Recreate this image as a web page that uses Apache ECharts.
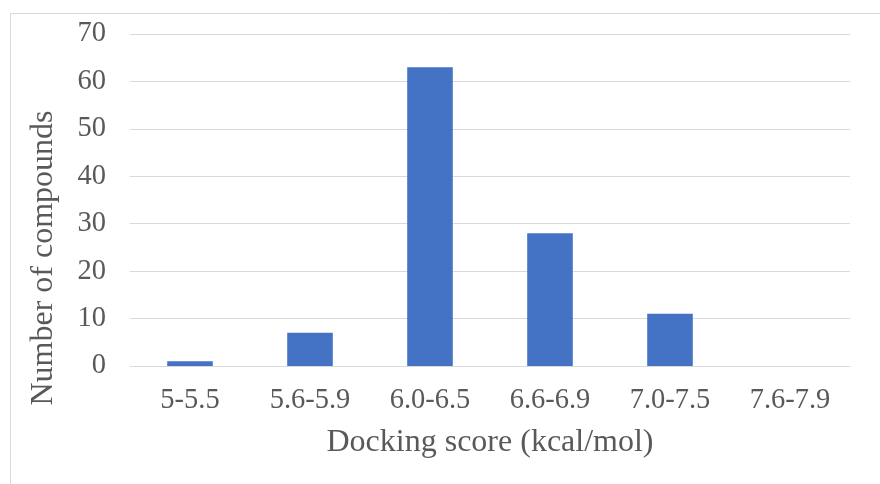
<!DOCTYPE html>
<html><head><meta charset="utf-8">
<script src="https://cdn.jsdelivr.net/npm/echarts@6/dist/echarts.min.js"></script>
<style>html,body{margin:0;padding:0;background:#fff}#c{width:880px;height:484px}</style>
</head><body><div id="c"></div>
<script>
const categories = ['5-5.5','5.6-5.9','6.0-6.5','6.6-6.9','7.0-7.5','7.6-7.9'];
const counts = [1, 7, 63, 28, 11, 0];
const yTicks = {min: 0, max: 70, interval: 10};
const xTitle = 'Docking score (kcal/mol)';
const yTitle = 'Number of compounds';

const font = '"Liberation Serif", "Times New Roman", serif';
const chart = echarts.init(document.getElementById('c'), null, {renderer: 'canvas'});
chart.setOption({
  animation: false,
  backgroundColor: '#fff',
  graphic: [{
    type: 'rect', left: 8, top: 11,
    shape: {width: 900, height: 500},
    style: {fill: 'none', stroke: '#d9d9d9', lineWidth: 1}
  }, {
    type: 'text', x: 44, y: 258, rotation: Math.PI / 2,
    style: {text: yTitle, fontFamily: font, fontSize: 32, fill: '#595959',
            align: 'center', verticalAlign: 'middle'}
  }],
  grid: {left: 130, right: 30, top: 34, bottom: 118, containLabel: false},
  xAxis: {
    type: 'category', data: categories,
    name: xTitle, nameLocation: 'middle', nameGap: 61,
    nameTextStyle: {fontFamily: font, fontSize: 32, color: '#595959'},
    axisLine: {lineStyle: {color: '#d9d9d9', width: 1}},
    axisTick: {show: false},
    axisLabel: {fontFamily: font, fontSize: 28.5, color: '#595959', margin: 20}
  },
  yAxis: {
    type: 'value', min: yTicks.min, max: yTicks.max, interval: yTicks.interval,
    axisLine: {show: false}, axisTick: {show: false},
    splitLine: {lineStyle: {color: '#d9d9d9', width: 1}},
    axisLabel: {fontFamily: font, fontSize: 28.5, color: '#595959', margin: 24}
  },
  series: [{
    type: 'bar', data: counts, barWidth: '38%',
    itemStyle: {color: '#4472c4'}
  }]
});
</script></body></html>
